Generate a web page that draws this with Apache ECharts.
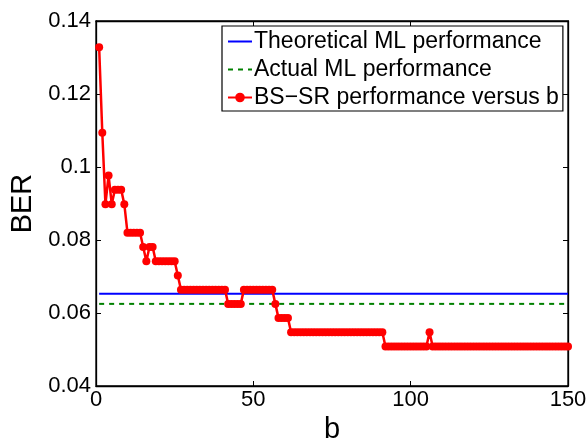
<!DOCTYPE html>
<html>
<head>
<meta charset="utf-8">
<script src="https://cdn.jsdelivr.net/npm/echarts@6/dist/echarts.min.js"></script>
<style>
html,body{margin:0;padding:0;background:#fff;}
#chart{width:587px;height:439px;}
</style>
</head>
<body>
<div id="chart"></div>
<script>
// BS-SR BER for b = 1..150
const bsSr = [
  0.1328, 0.1094, 0.0898, 0.0977, 0.0898, 0.0938, 0.0938, 0.0938, 0.0898,
  0.0820, 0.0820, 0.0820, 0.0820, 0.0820,
  0.0781, 0.0742, 0.0781, 0.0781,
  0.0742, 0.0742, 0.0742, 0.0742, 0.0742, 0.0742, 0.0742,
  0.0703,
  0.0664, 0.0664, 0.0664, 0.0664, 0.0664, 0.0664, 0.0664, 0.0664, 0.0664, 0.0664, 0.0664, 0.0664, 0.0664, 0.0664, 0.0664,
  0.0625, 0.0625, 0.0625, 0.0625, 0.0625,
  0.0664, 0.0664, 0.0664, 0.0664, 0.0664, 0.0664, 0.0664, 0.0664, 0.0664, 0.0664,
  0.0625,
  0.0586, 0.0586, 0.0586, 0.0586,
  0.0547, 0.0547, 0.0547, 0.0547, 0.0547, 0.0547, 0.0547, 0.0547, 0.0547, 0.0547,
  0.0547, 0.0547, 0.0547, 0.0547, 0.0547, 0.0547, 0.0547, 0.0547, 0.0547, 0.0547,
  0.0547, 0.0547, 0.0547, 0.0547, 0.0547, 0.0547, 0.0547, 0.0547, 0.0547, 0.0547,
  0.0508, 0.0508, 0.0508, 0.0508, 0.0508, 0.0508, 0.0508, 0.0508, 0.0508, 0.0508, 0.0508, 0.0508, 0.0508, 0.0508,
  0.0547,
  0.0508, 0.0508, 0.0508, 0.0508, 0.0508, 0.0508, 0.0508, 0.0508, 0.0508, 0.0508, 0.0508,
  0.0508, 0.0508, 0.0508, 0.0508, 0.0508, 0.0508, 0.0508, 0.0508, 0.0508, 0.0508, 0.0508,
  0.0508, 0.0508, 0.0508, 0.0508, 0.0508, 0.0508, 0.0508, 0.0508, 0.0508, 0.0508, 0.0508,
  0.0508, 0.0508, 0.0508, 0.0508, 0.0508, 0.0508, 0.0508, 0.0508, 0.0508, 0.0508, 0.0508
];
const bValues = bsSr.map((v, i) => i + 1);
const theoreticalML = 0.0653;
const actualML = 0.0625;
const xRange = [1, 150];
const seriesNames = ['Theoretical ML performance', 'Actual ML performance', 'BS\u2212SR performance versus b'];
const xTicks = [0, 50, 100, 150];
const yTicks = [0.04, 0.06, 0.08, 0.1, 0.12, 0.14];

const FONT = 'Liberation Sans';
const chart = echarts.init(document.getElementById('chart'), null, {renderer: 'canvas'});

const baseAxis = {
  axisLine: {show: true, onZero: false, lineStyle: {color: '#000', width: 1.3}},
  axisTick: {show: true, inside: true, length: 5, lineStyle: {color: '#000', width: 1}},
  splitLine: {show: false}
};

chart.setOption({
  animation: false,
  backgroundColor: '#fff',
  grid: {left: 96, right: 19, top: 21, bottom: 53, outerBoundsMode: 'none', containLabel: false,
    show: true, borderColor: '#000', borderWidth: 1.3, backgroundColor: 'transparent'},
  legend: {
    left: 222, top: 26,
    orient: 'vertical',
    data: [
      {name: seriesNames[0], itemStyle: {opacity: 0}},
      {name: seriesNames[1], itemStyle: {opacity: 0}},
      {name: seriesNames[2]}
    ],
    itemWidth: 24, itemHeight: 12, itemGap: 5,
    padding: [4, 4, 2, 5],
    borderColor: '#000', borderWidth: 1.2, borderRadius: 0,
    backgroundColor: '#fff',
    textStyle: {fontFamily: FONT, fontSize: 23, color: '#000', lineHeight: 23, padding: [0, 0, 0, -3]},
    selectedMode: false
  },
  xAxis: [
    Object.assign({}, baseAxis, {
      type: 'value', min: 0, max: 150, interval: 50, position: 'bottom',
      name: 'b', nameLocation: 'middle', nameGap: 25,
      nameTextStyle: {fontFamily: FONT, fontSize: 29, color: '#000'},
      axisLabel: {fontFamily: FONT, fontSize: 22, color: '#000', margin: 3,
        formatter: v => xTicks.indexOf(v) >= 0 ? String(v) : ''}
    }),
    Object.assign({}, baseAxis, {
      type: 'value', min: 0, max: 150, interval: 50, position: 'top',
      axisLabel: {show: false}
    })
  ],
  yAxis: [
    Object.assign({}, baseAxis, {
      type: 'value', min: 0.04, max: 0.14, interval: 0.02, position: 'left',
      name: 'BER', nameLocation: 'middle', nameGap: 55, nameRotate: 90,
      nameTextStyle: {fontFamily: FONT, fontSize: 29, color: '#000'},
      axisLabel: {fontFamily: FONT, fontSize: 22, color: '#000', margin: 5,
        formatter: v => {
          const r = Math.round(v * 100) / 100;
          return yTicks.indexOf(r) >= 0 ? String(r) : '';
        }}
    }),
    Object.assign({}, baseAxis, {
      type: 'value', min: 0.04, max: 0.14, interval: 0.02, position: 'right',
      axisLabel: {show: false}
    })
  ],
  series: [
    {
      name: seriesNames[0], type: 'line',
      data: xRange.map(x => [x, theoreticalML]),
      symbol: 'none', lineStyle: {color: '#0000ff', width: 2}, itemStyle: {color: '#0000ff'},
      z: 2
    },
    {
      name: seriesNames[1], type: 'line',
      data: xRange.map(x => [x, actualML]),
      symbol: 'none', lineStyle: {color: '#008000', width: 2, type: [5, 5]}, itemStyle: {color: '#008000'},
      z: 2
    },
    {
      name: seriesNames[2], type: 'line',
      data: bValues.map((b, i) => [b, bsSr[i]]),
      symbol: 'circle', symbolSize: 8, showAllSymbol: true,
      lineStyle: {color: '#ff0000', width: 2.5}, itemStyle: {color: '#ff0000'},
      z: 3
    }
  ]
});
</script>
</body>
</html>
